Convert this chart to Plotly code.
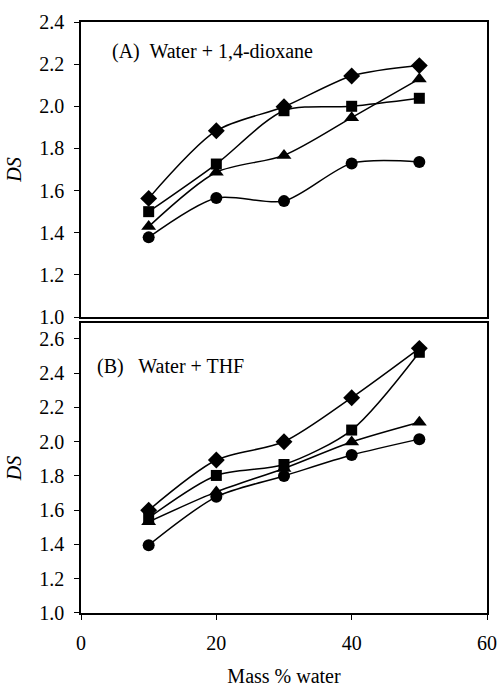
import plotly.graph_objects as go
from plotly.subplots import make_subplots

mass_water = [10, 20, 30, 40, 50]

# Panel A: Water + 1,4-dioxane
a_diamond = [1.563, 1.884, 1.998, 2.144, 2.193]
a_square = [1.50, 1.726, 1.979, 2.00, 2.038]
a_triangle = [1.429, 1.687, 1.767, 1.946, 2.13]
a_circle = [1.378, 1.565, 1.55, 1.729, 1.736]

# Panel B: Water + THF
b_diamond = [1.60, 1.893, 2.00, 2.257, 2.545]
b_square = [1.555, 1.803, 1.867, 2.068, 2.522]
b_triangle = [1.532, 1.707, 1.844, 1.998, 2.113]
b_circle = [1.396, 1.678, 1.80, 1.922, 2.015]

y_ticks = [1.0, 1.2, 1.4, 1.6, 1.8, 2.0, 2.2, 2.4, 2.6]
x_ticks = [0, 20, 40, 60]

FONT = "Liberation Serif"

fig = make_subplots(rows=2, cols=1, shared_xaxes=False, vertical_spacing=0.0)

series_styles = [
    ("diamond", 13),
    ("square", 11),
    ("triangle-up", 13),
    ("circle", 12),
]

panelA = [a_diamond, a_square, a_triangle, a_circle]
panelB = [b_diamond, b_square, b_triangle, b_circle]

for row, panel in ((1, panelA), (2, panelB)):
    for vals, (sym, sz) in zip(panel, series_styles):
        fig.add_trace(
            go.Scatter(
                x=mass_water, y=vals, mode="lines+markers",
                line=dict(color="black", width=1.5, shape="spline", smoothing=0.8),
                marker=dict(symbol=sym, size=sz, color="black"),
                showlegend=False,
            ),
            row=row, col=1,
        )

axis_common = dict(
    showgrid=False, zeroline=False, showline=True, mirror=True,
    linecolor="black", linewidth=1.5, ticklen=5,
    tickcolor="black", tickwidth=1, automargin=False,
    tickfont=dict(family=FONT, size=20, color="black"),
)

fig.update_layout(
    width=498, height=687,
    margin=dict(l=81, r=11, t=22, b=74),
    paper_bgcolor="white", plot_bgcolor="white",
    font=dict(family=FONT, color="black"),
    xaxis=dict(domain=[0, 1], range=[0, 60], tickvals=x_ticks, showticklabels=False,
               ticks="", **axis_common),
    yaxis=dict(domain=[0.5008, 1.0], range=[1.0, 2.4], tickvals=y_ticks[:8],
               ticktext=[f"{v:.1f}" for v in y_ticks[:8]], ticks="outside",
               ticklabelstandoff=6,
               title=dict(text="<i>DS</i>", font=dict(family=FONT, size=20), standoff=12),
               **axis_common),
    xaxis2=dict(domain=[0, 1], range=[0, 60], tickvals=x_ticks, ticks="outside",
                ticklabelstandoff=6,
                title=dict(text="Mass % water", font=dict(family=FONT, size=20), standoff=21),
                **axis_common),
    yaxis2=dict(domain=[0.0, 0.4907], range=[1.0, 2.693], tickvals=y_ticks,
                ticktext=[f"{v:.1f}" for v in y_ticks], ticks="outside",
                ticklabelstandoff=6,
                title=dict(text="<i>DS</i>", font=dict(family=FONT, size=20), standoff=12),
                **axis_common),
)

fig.add_annotation(text="(A)  Water + 1,4-dioxane", xref="x", yref="y",
                   x=4.3, y=2.26, xanchor="left", yanchor="middle", showarrow=False,
                   font=dict(family=FONT, size=20, color="black"))
fig.add_annotation(text="(B)   Water + THF", xref="x2", yref="y2",
                   x=2.1, y=2.44, xanchor="left", yanchor="middle", showarrow=False,
                   font=dict(family=FONT, size=20, color="black"))

# remove the default page margin so the figure fills the 498x687 window exactly
fig.write_html(
    "out.html",
    config={"displayModeBar": False},
    post_script="document.body.style.margin='0px';document.body.style.overflow='hidden';",
)
